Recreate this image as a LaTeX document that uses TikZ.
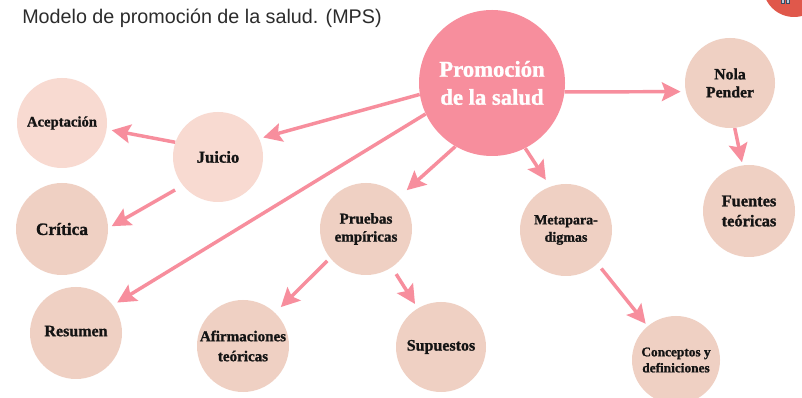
\documentclass[tikz,border=0pt]{standalone}
\usepackage{fontspec}
\setmainfont{Liberation Serif}
\setsansfont{Liberation Sans}
\newfontfamily\heavy[BoldFont={Liberation Serif Bold}, BoldFeatures={FakeBold=1.2}]{Liberation Serif}
\usetikzlibrary{arrows.meta}
\definecolor{pinkA}{HTML}{F78E9D}
\definecolor{lightA}{HTML}{F8DAD1}
\definecolor{lightB}{HTML}{EFD0C3}
\definecolor{redC}{HTML}{E0584B}
\definecolor{iconB}{HTML}{5C7FA8}
\definecolor{inkT}{HTML}{141414}
\begin{document}
\begin{tikzpicture}[x=0.75pt,y=-0.75pt,
  bub/.style={circle,inner sep=0pt,align=center,text=inkT},
  arr/.style={draw=pinkA,line width=2.6pt,-{Stealth[length=14pt,width=14pt,inset=2.5pt]},shorten >=3pt}
]
\useasboundingbox (0,0) rectangle (802,398);
\clip (0,0) rectangle (802,398);
\fill[white] (0,0) rectangle (802,398);

% title
\node[anchor=base west, inner sep=0pt, text=inkT!90, font={\sffamily\fontsize{14.8pt}{17pt}\selectfont}] (title) at (22,24) {Modelo de promoción de la salud. (MPS)};

% corner logo
\node[circle, fill=redC, minimum size=46.5pt, inner sep=0pt] (logo) at (794,-14) {};
\draw[iconB!60!black, fill=iconB!40, line width=0.4pt] (781,-2) rectangle (784.5,3.5);
\draw[iconB!60!black, fill=iconB!40, line width=0.4pt] (786,-2) rectangle (789.5,3.5);

% nodes
\node[bub, fill=pinkA, minimum size=109.5pt, text=white, font={\heavy\bfseries\fontsize{17pt}{21pt}\selectfont}] (prom) at (492,83) {Promoción\\de la salud};
\node[bub, fill=lightA, minimum size=67.5pt, font={\heavy\bfseries\fontsize{11pt}{13pt}\selectfont}] (ace) at (62,123) {Aceptación};
\node[bub, fill=lightA, minimum size=67.5pt, font={\heavy\bfseries\fontsize{12.5pt}{15pt}\selectfont}] (jui) at (218,157) {Juicio};
\node[bub, fill=lightB, minimum size=69pt, font={\heavy\bfseries\fontsize{13pt}{15pt}\selectfont}] (cri) at (62,229) {Crítica};
\node[bub, fill=lightB, minimum size=69pt, font={\heavy\bfseries\fontsize{12pt}{15pt}\selectfont}] (res) at (76,333) {\raisebox{3pt}{Resumen}};
\node[bub, fill=lightB, minimum size=69pt, font={\heavy\bfseries\fontsize{11.3pt}{15pt}\selectfont}] (afi) at (243,346) {Afirmaciones\\teóricas};
\node[bub, fill=lightB, minimum size=69pt, font={\heavy\bfseries\fontsize{11.3pt}{13.5pt}\selectfont}] (pru) at (366,229) {Pruebas\\empíricas};
\node[bub, fill=lightB, minimum size=67.5pt, font={\heavy\bfseries\fontsize{12pt}{15pt}\selectfont}] (sup) at (441,347) {Supuestos};
\node[bub, fill=lightB, minimum size=69pt, font={\heavy\bfseries\fontsize{10.5pt}{13pt}\selectfont}] (met) at (566,230) {Metapara-\\digmas};
\node[bub, fill=lightB, minimum size=67.5pt, font={\heavy\bfseries\fontsize{11.8pt}{13.5pt}\selectfont}] (nol) at (730,83) {Nola\\Pender};
\node[bub, fill=lightB, minimum size=69pt, font={\heavy\bfseries\fontsize{12.3pt}{15pt}\selectfont}] (fue) at (749,211) {Fuentes\\teóricas};
\node[bub, fill=lightB, minimum size=66pt, font={\heavy\bfseries\fontsize{10pt}{12pt}\selectfont}] (con) at (676,360) {Conceptos y\\definiciones};

% connectors
\draw[arr] (prom.189) -- (jui.24);
\draw[arr, shorten >=3.75pt] (jui.161) -- (ace.352);
\draw[arr, shorten <=6.75pt] (jui.219) -- (cri.1);
\draw[arr, shorten >=3.75pt] (prom.205) -- (res.37);
\draw[arr, shorten >=7.5pt] (prom.240) -- (pru.44);
\draw[arr, shorten >=6pt] (prom.297) -- (met.110);
\draw[arr, shorten >=3.75pt] (prom.353) -- (nol.191);
\draw[arr, shorten >=2.25pt] (nol.276) -- (fue.98);
\draw[arr, shorten <=3pt, shorten >=6pt] (pru.219) -- (afi.46);
\draw[arr, shorten <=6pt, shorten >=3.75pt] (pru.304) -- (sup.121);
\draw[arr, shorten <=4.5pt, shorten >=2.25pt] (met.313) -- (con.130);
\end{tikzpicture}
\end{document}
